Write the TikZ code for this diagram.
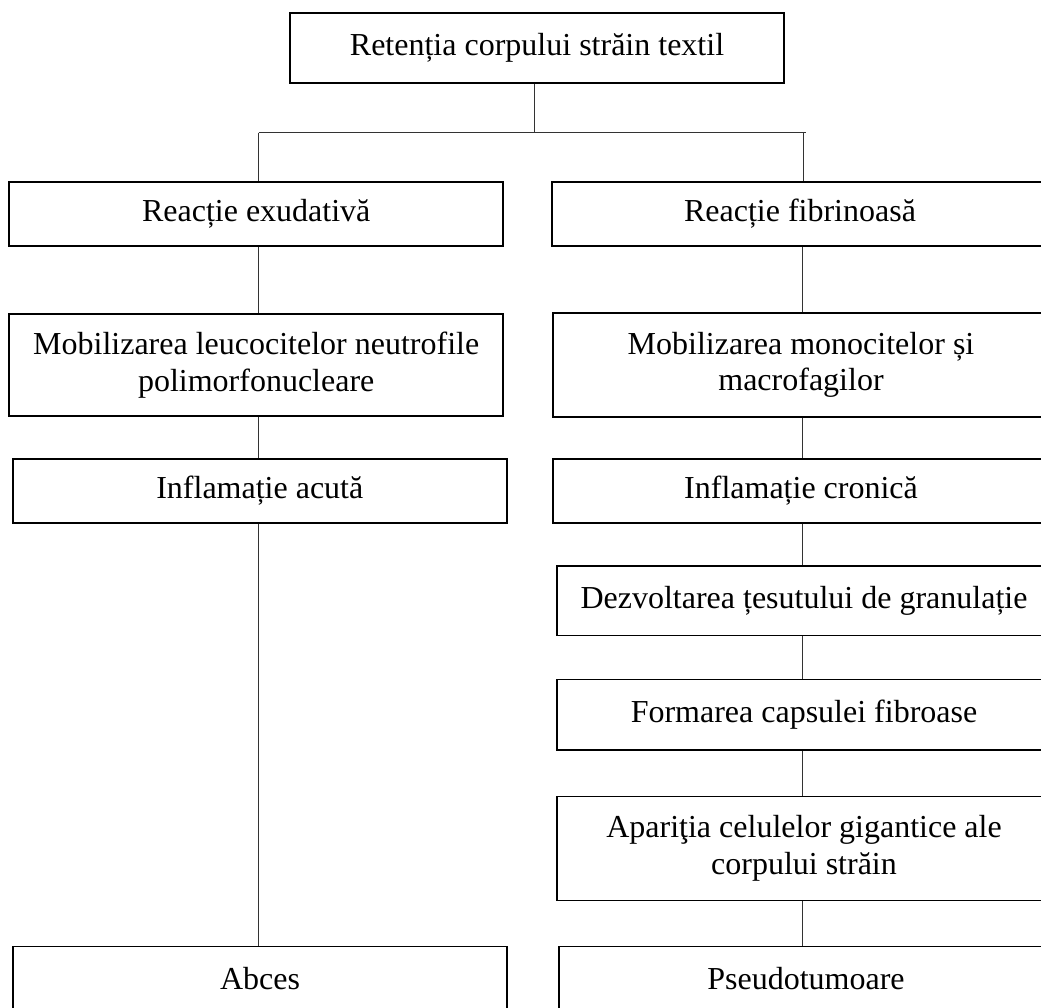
\documentclass[tikz,border=0pt]{standalone}
\usepackage{fontspec}
\setmainfont{Liberation Serif}
\begin{document}
\begin{tikzpicture}[x=1pt,y=-1pt,
  box/.style={draw=black, line width=1.6pt, rectangle, inner sep=0pt,
    minimum width=494pt, align=center, font=\fontsize{32}{36.5}\selectfont},
  conn/.style={draw=black!80, line width=1pt}]
\useasboundingbox (0,0) rectangle (1041,1007);
\clip (0,0) rectangle (1041,1007);
% top
\node[box, minimum height=70pt] (top) at (537,47.7) {Retenția corpului străin textil};
% left column
\node[box, minimum height=64pt] (re) at (256.2,214) {Reacție exudativă};
\node[box, minimum height=102pt] (ml) at (256.2,365) {Mobilizarea leucocitelor neutrofile\\polimorfonucleare};
\node[box, minimum height=64pt] (ia) at (259.8,490.7) {Inflamație acută};
\node[box, minimum height=64pt] (ab) at (260,978.3) {Abces};
% right column
\node[box, minimum height=64pt, minimum width=496pt] (rf) at (800,214) {Reacție fibrinoasă};
\node[box, minimum height=104pt, minimum width=496pt] (mr) at (801,364.7) {Mobilizarea monocitelor și\\macrofagilor};
\node[box, minimum height=64pt, minimum width=496pt] (ic) at (801,490.7) {Inflamație cronică};
\node[box, minimum height=69.6pt, minimum width=494pt] (dz) at (804,600.5) {Dezvoltarea țesutului de granulație};
\node[box, minimum height=70.3pt, minimum width=494pt] (fc) at (804,714.8) {Formarea capsulei fibroase};
\node[box, minimum height=104pt, minimum width=494pt] (ap) at (804,848.3) {Apariţia celulelor gigantice ale\\corpului străin};
\node[box, minimum height=64pt, minimum width=494pt] (ps) at (806,978.3) {Pseudotumoare};
% junction coordinates
\coordinate (jm) at (534,132.7);
\coordinate (jl) at (258.5,132.7);
\coordinate (jr) at (803,132.7);
\coordinate (je) at (806,132.7);
\coordinate (cl) at (258.7,0);
\coordinate (cr) at (802.5,0);
% connectors
\draw[conn] (top.south -| jm) -- (jm);
\draw[conn] (jl) -- (je);
\draw[conn] (jl) -- (re.north -| jl);
\draw[conn] (jr) -- (rf.north -| jr);
\draw[conn] (re.south -| cl) -- (ml.north -| cl);
\draw[conn] (ml.south -| cl) -- (ia.north -| cl);
\draw[conn] (ia.south -| cl) -- (ab.north -| cl);
\draw[conn] (rf.south -| cr) -- (mr.north -| cr);
\draw[conn] (mr.south -| cr) -- (ic.north -| cr);
\draw[conn] (ic.south -| cr) -- (dz.north -| cr);
\draw[conn] (dz.south -| cr) -- (fc.north -| cr);
\draw[conn] (fc.south -| cr) -- (ap.north -| cr);
\draw[conn] (ap.south -| cr) -- (ps.north -| cr);
\end{tikzpicture}
\end{document}
